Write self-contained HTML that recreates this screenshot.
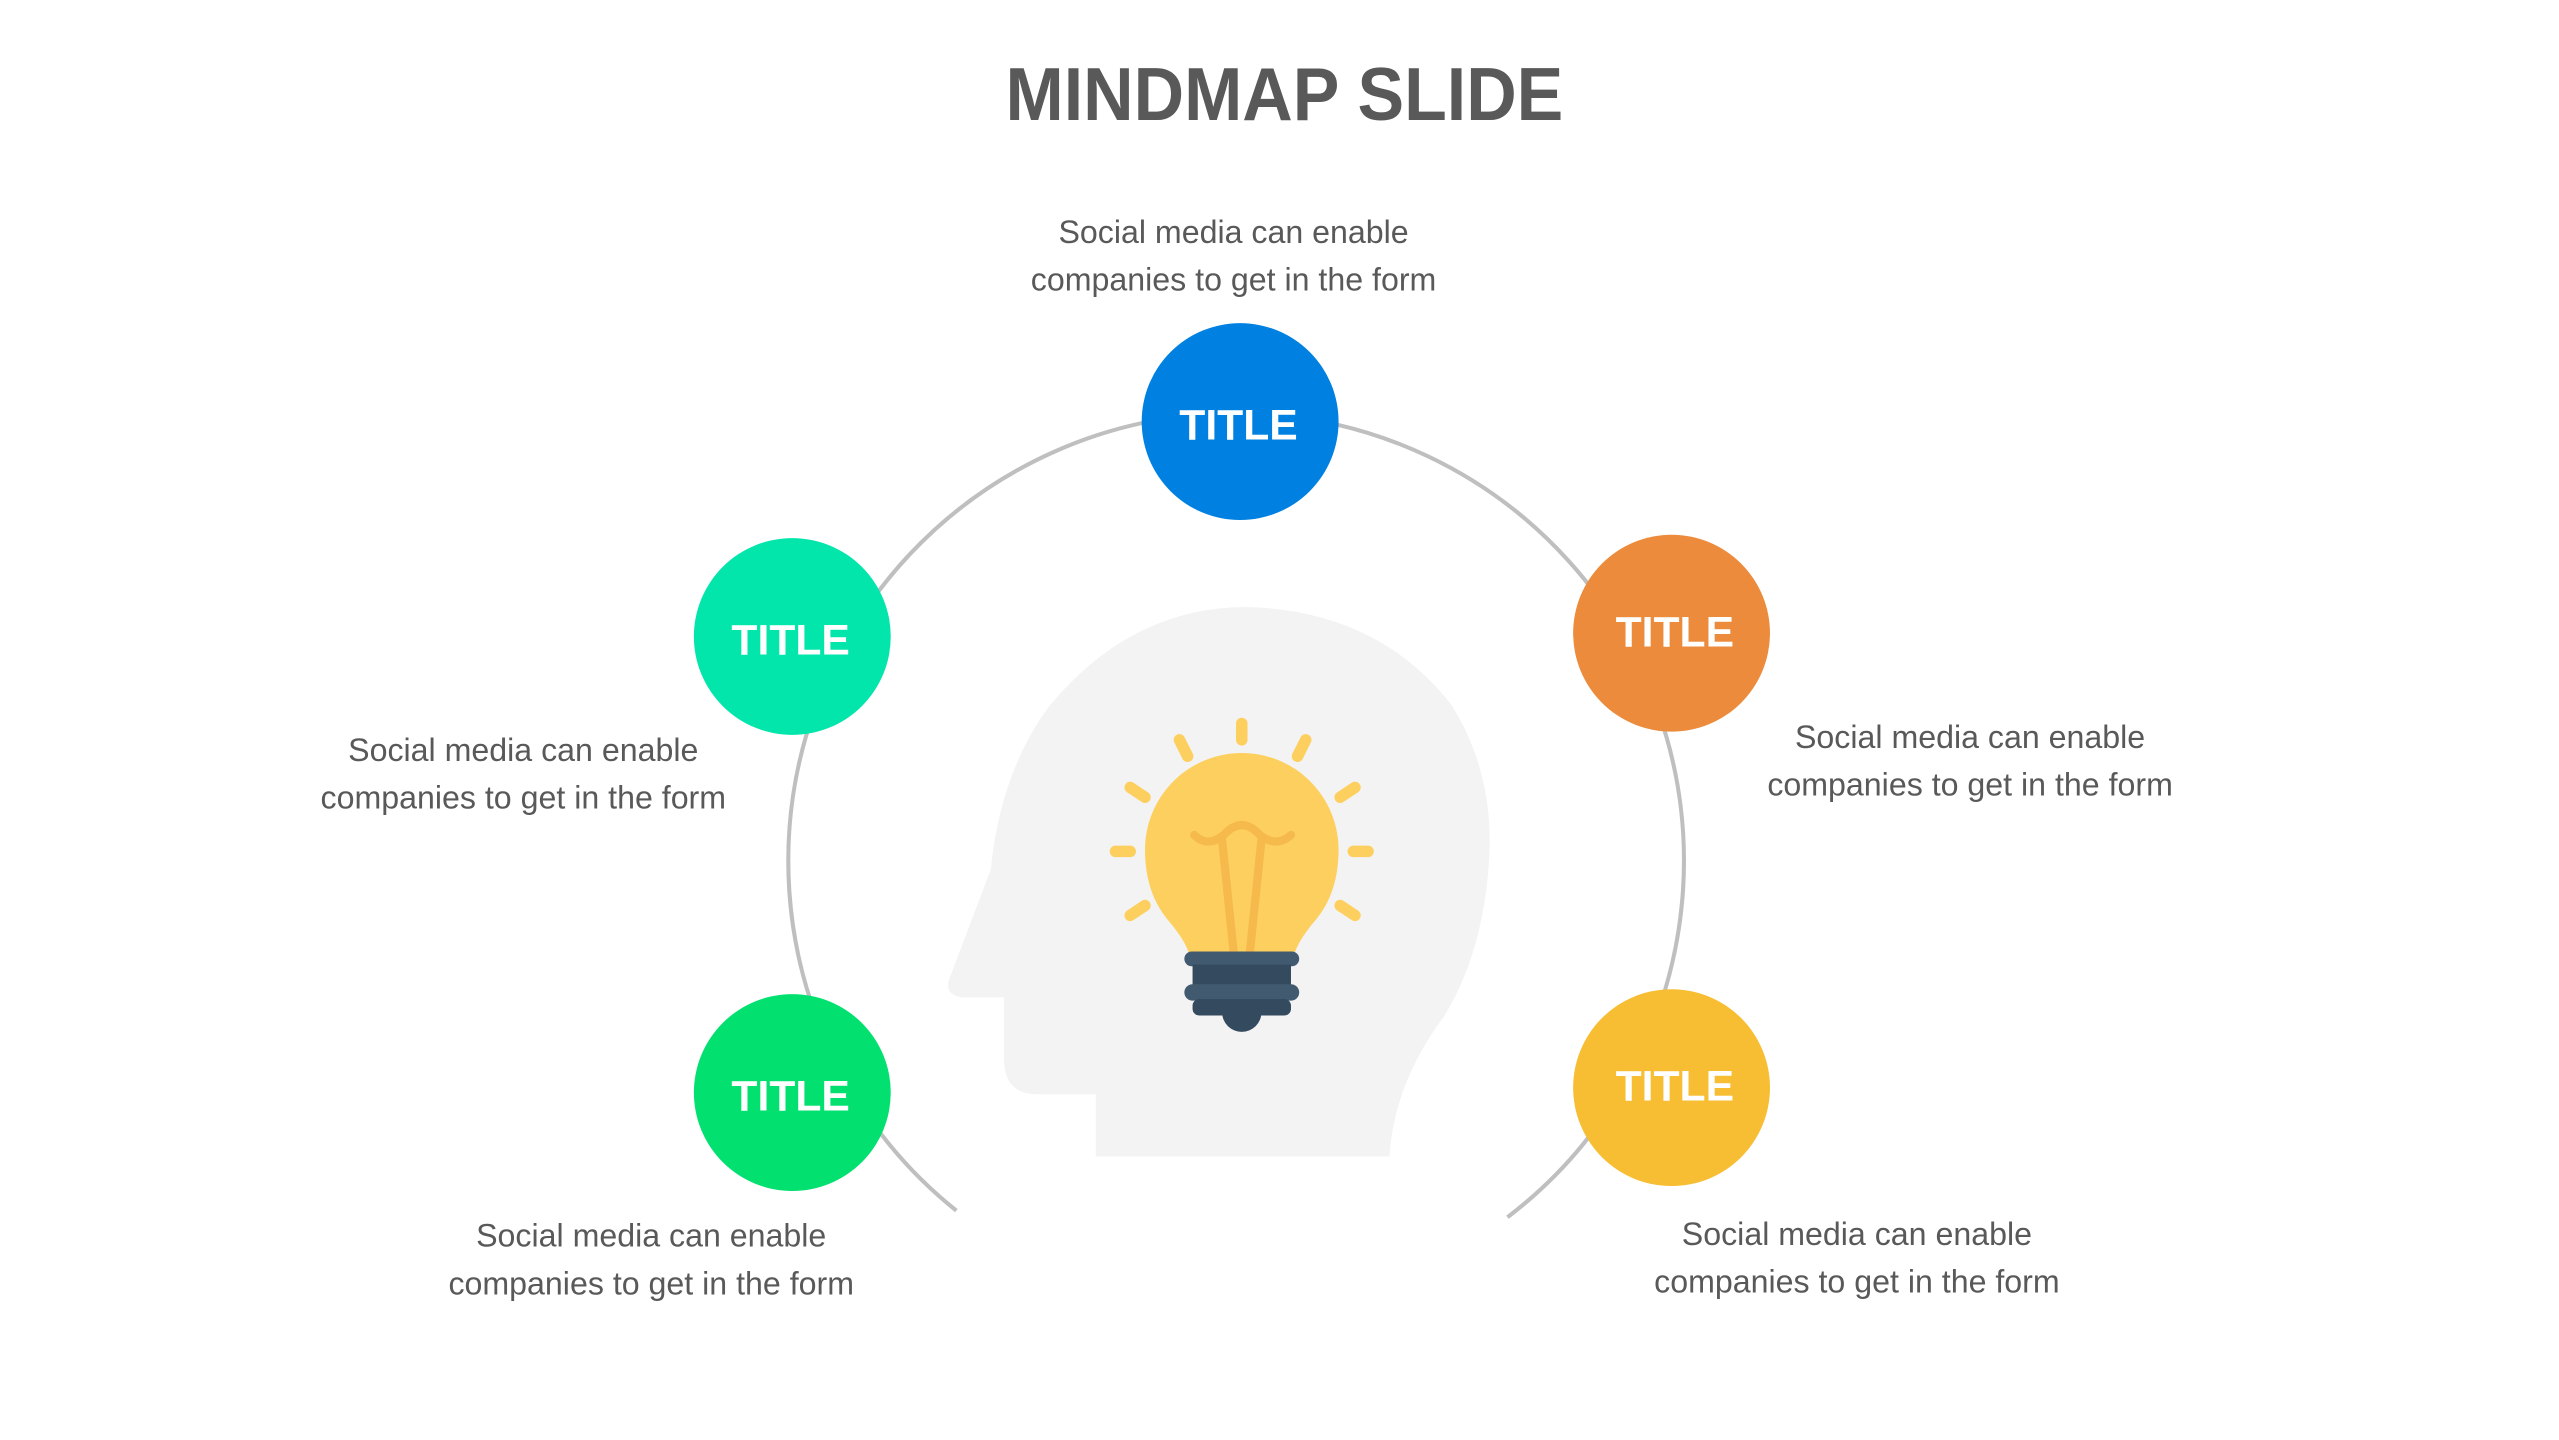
<!DOCTYPE html>
<html><head><meta charset="utf-8"><style>
html,body{margin:0;padding:0;background:#fff;}
svg{display:block;}
</style></head><body>
<svg width="2559" height="1440" viewBox="0 0 1560 877.8" preserveAspectRatio="none" xmlns="http://www.w3.org/2000/svg">
<rect width="1560" height="878" fill="#fff"/>
<text x="783" y="73" text-anchor="middle" font-family="Liberation Sans, sans-serif" font-weight="bold" font-size="46" fill="#595959" textLength="340" lengthAdjust="spacingAndGlyphs">MINDMAP SLIDE</text>
<path d="M583,738 A273,273 0 1 1 919,742" fill="none" stroke="#BFBFBF" stroke-width="2.5"/>
<path d="M668,705 L668,667 L632,667 Q612,667 612,645 L612,608 L586,608 Q575,606 579,596 L604,530 Q610,470 640,430 Q690,370 760,370 Q840,372 885,430 Q910,470 908,520 Q905,580 880,620 Q850,660 847,705 Z" fill="#F3F3F3"/>
<g stroke="#FDCF5E" stroke-width="7" stroke-linecap="round">
<line x1="757" y1="441" x2="757" y2="451"/>
<line x1="719" y1="451" x2="724" y2="461"/>
<line x1="796" y1="451" x2="791" y2="461"/>
<line x1="689" y1="480" x2="698" y2="486"/>
<line x1="826" y1="480" x2="817" y2="486"/>
<line x1="680" y1="519" x2="689" y2="519"/>
<line x1="825" y1="519" x2="834" y2="519"/>
<line x1="689" y1="558" x2="698" y2="552"/>
<line x1="826" y1="558" x2="817" y2="552"/>
</g>
<path d="M698,518 A59,59 0 1 1 816,518 Q816,545 801,562 Q791,574 789,582 L725,582 Q723,574 713,562 Q698,545 698,518Z" fill="#FDCF5E"/>
<g fill="none" stroke="#F6B94C" stroke-width="5" stroke-linecap="round">
<path d="M728,509 Q736,517 746,509 Q757,497 768,509 Q778,517 787,509"/>
<line x1="745" y1="512" x2="752" y2="580"/>
<line x1="769" y1="512" x2="762" y2="580"/>
</g>
<rect x="722" y="580" width="70" height="9" rx="4.5" fill="#415A6F"/>
<rect x="727" y="588" width="60" height="13" fill="#344A5E"/>
<rect x="722" y="600" width="70" height="10" rx="5" fill="#415A6F"/>
<rect x="727" y="609" width="60" height="10" rx="4" fill="#344A5E"/>
<path d="M745,617 A12,12 0 0 0 769,617 Z" fill="#344A5E"/>
<g font-family="Liberation Sans, sans-serif" font-weight="bold" font-size="26" fill="#fff" text-anchor="middle">
<circle cx="756" cy="257" r="60" fill="#0080E0"/><text x="755" y="268">TITLE</text>
<circle cx="483" cy="388" r="60" fill="#02E5AB"/><text x="482" y="399">TITLE</text>
<circle cx="1019" cy="386" r="60" fill="#EC8B3B"/><text x="1021" y="394">TITLE</text>
<circle cx="483" cy="666" r="60" fill="#02E06F"/><text x="482" y="677">TITLE</text>
<circle cx="1019" cy="663" r="60" fill="#F7BD33"/><text x="1021" y="671">TITLE</text>
</g>
<g font-family="Liberation Sans, sans-serif" font-size="19.6" fill="#595959" text-anchor="middle">
<text x="752" y="148">Social media can enable</text><text x="752" y="177">companies to get in the form</text>
<text x="319" y="464">Social media can enable</text><text x="319" y="493">companies to get in the form</text>
<text x="1201" y="456">Social media can enable</text><text x="1201" y="485">companies to get in the form</text>
<text x="397" y="760">Social media can enable</text><text x="397" y="789">companies to get in the form</text>
<text x="1132" y="759">Social media can enable</text><text x="1132" y="788">companies to get in the form</text>
</g>
</svg>
</body></html>
